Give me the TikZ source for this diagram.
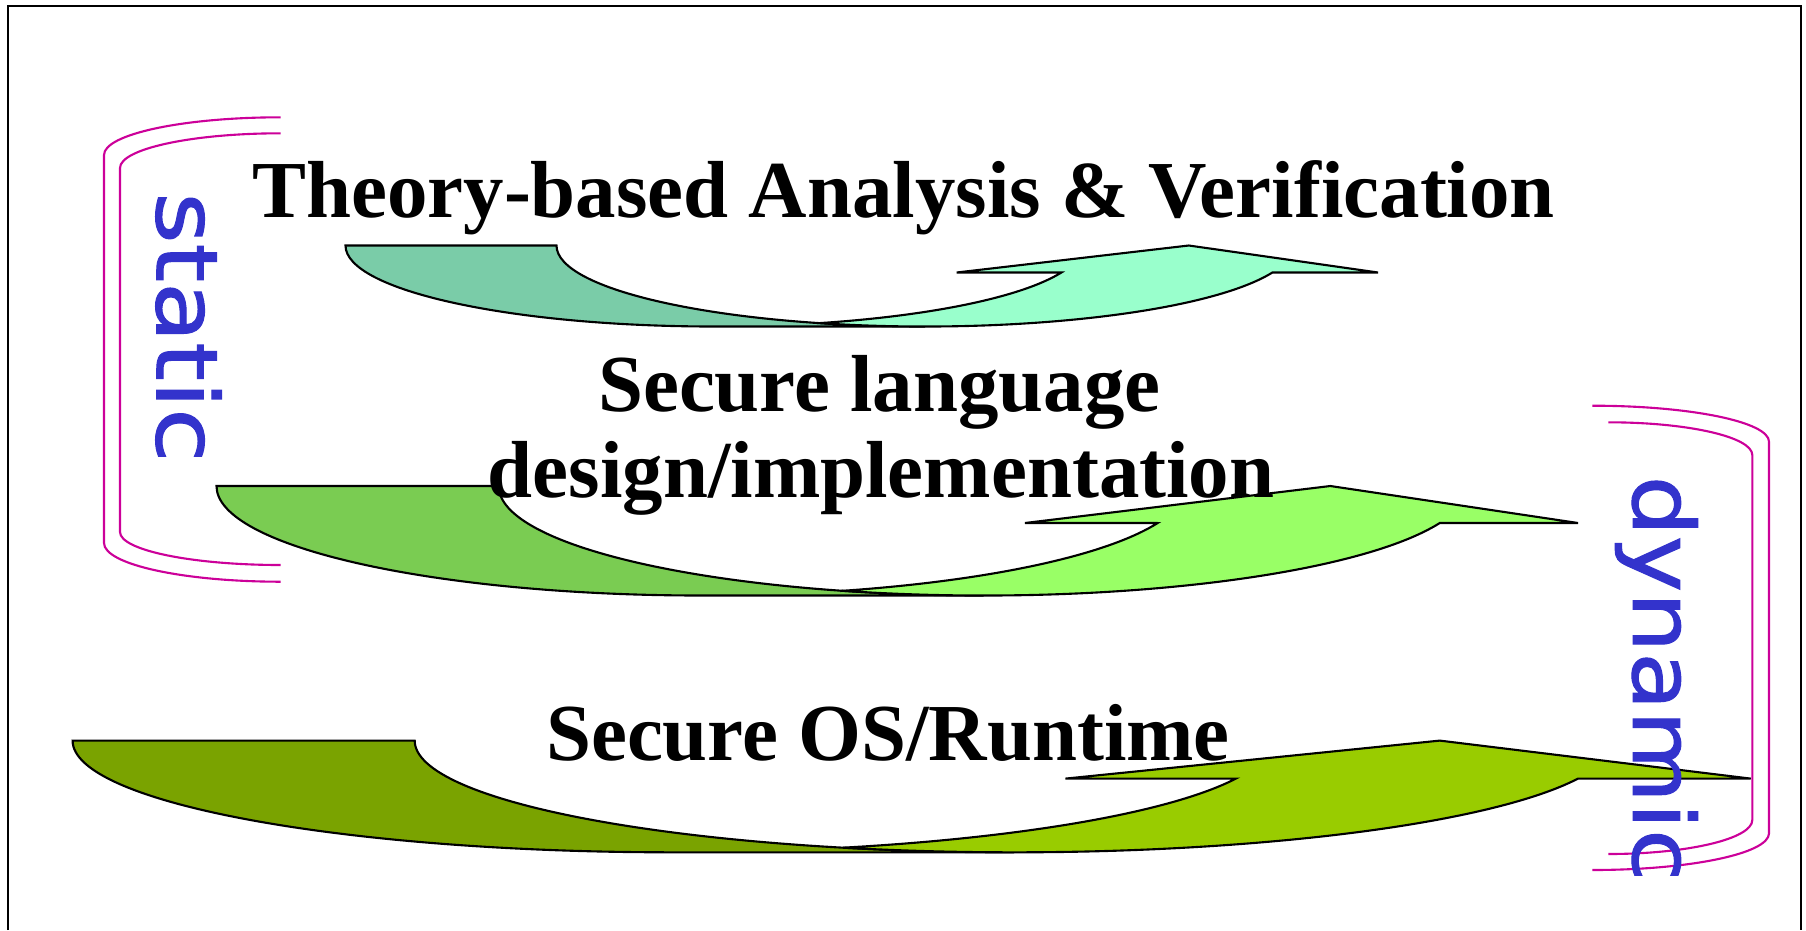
\documentclass[tikz,border=0pt]{standalone}
\usepackage{graphicx}
\usepackage{fontspec}
\setmainfont{Liberation Serif}
\newfontfamily\labelfont{DejaVu Sans}[FakeBold=1.2]
\definecolor{adark}{HTML}{7ACCA8}
\definecolor{alight}{HTML}{99FFCC}
\definecolor{bdark}{HTML}{7ACC52}
\definecolor{blight}{HTML}{99FF66}
\definecolor{cdark}{HTML}{7AA300}
\definecolor{clight}{HTML}{99CC00}
\definecolor{labelblue}{HTML}{3333CC}
\definecolor{bracketmag}{HTML}{CC0099}
\begin{document}
\begin{tikzpicture}[x=0.01cm,y=-0.01cm,
  band/.style={draw=black,line width=0.6pt,line join=miter},
  brk/.style={draw=bracketmag,line width=0.6pt},
  frameline/.style={draw=black,line width=0.8pt},
  title/.style={font=\fontsize{23}{27}\selectfont\bfseries,inner sep=0pt,anchor=base},
  side/.style={text=labelblue,inner sep=0pt,anchor=base west,rotate=-90,font=\labelfont\fontsize{24.3}{28}\selectfont}]
\useasboundingbox (0,0) rectangle (1806,930);
\fill[white] (0,0) rectangle (1806,930);
% frame
\draw[frameline] (8,930) -- (8,6) -- (1801,6) -- (1801,930);

% top ribbon arrow
\filldraw[band,fill=adark] (345.5,245.5) -- (556.5,245.5)
  arc[start angle=180,end angle=90,x radius=368.5,y radius=81]
  -- (714,326.5) arc[start angle=90,end angle=180,x radius=368.5,y radius=81] -- cycle;
\filldraw[band,fill=alight] (819.5,323.1)
  arc[start angle=73.36,end angle=19.47,x radius=368.5,y radius=81]
  -- (956.7,272.5) -- (1188.8,245.5) -- (1378,272.5) -- (1272.4,272.5)
  arc[start angle=19.47,end angle=106.64,x radius=368.5,y radius=81] -- cycle;

% middle ribbon arrow
\filldraw[band,fill=bdark] (216.5,486) -- (498.7,486)
  arc[start angle=180,end angle=90,x radius=484.8,y radius=109.5]
  -- (701.3,595.5) arc[start angle=90,end angle=180,x radius=484.8,y radius=109.5] -- cycle;
\filldraw[band,fill=blight] (842.4,590.8)
  arc[start angle=73.08,end angle=19.75,x radius=484.8,y radius=109.5]
  -- (1025,523) -- (1330.3,486) -- (1578,523) -- (1439.8,523)
  arc[start angle=19.75,end angle=106.92,x radius=484.8,y radius=109.5] -- cycle;

% bottom ribbon arrow
\filldraw[band,fill=cdark] (72.6,740.6) -- (414.7,740.6)
  arc[start angle=180,end angle=90,x radius=599.5,y radius=111.7]
  -- (672.1,852.3) arc[start angle=90,end angle=180,x radius=599.5,y radius=111.7] -- cycle;
\filldraw[band,fill=clight] (843.2,847.65)
  arc[start angle=73.42,end angle=19.89,x radius=599.5,y radius=111.7]
  -- (1065.4,778.6) -- (1439.8,740.6) -- (1750.7,778.6) -- (1578,778.6)
  arc[start angle=19.89,end angle=106.58,x radius=599.5,y radius=111.7] -- cycle;

% left brackets (static)
\draw[brk] (280.7,117.3) arc[start angle=270,end angle=180,x radius=176.7,y radius=37.7]
  -- (104,543) arc[start angle=180,end angle=90,x radius=176.7,y radius=38.7];
\draw[brk] (280.7,133.3) arc[start angle=270,end angle=180,x radius=160.7,y radius=34.7]
  -- (120,532) arc[start angle=180,end angle=90,x radius=160.7,y radius=33];
% right brackets (dynamic)
\draw[brk] (1592.3,405.7) arc[start angle=270,end angle=360,x radius=176.7,y radius=36]
  -- (1769,833.3) arc[start angle=0,end angle=90,x radius=176.7,y radius=36.7];
\draw[brk] (1608.3,422.3) arc[start angle=270,end angle=360,x radius=144,y radius=32.7]
  -- (1752.3,820) arc[start angle=0,end angle=90,x radius=144,y radius=34];

% texts
\node[title] (t1) at (903.6,217.3) {Theory-based Analysis \& Verification};
\node[title] (t2a) at (879.4,411.2) {Secure language};
\node[title] (t2b) at (881.1,497.6) {design/implementation};
\node[title] (t3) at (888,760.2) {Secure OS/Runtime};
\node[side] (st) at (156.7,191.7) {\scalebox{1.15}[1]{static}};
\node[side] (dy) at (1633,475) {\scalebox{1.11}[1]{dynamic}};
\end{tikzpicture}
\end{document}
